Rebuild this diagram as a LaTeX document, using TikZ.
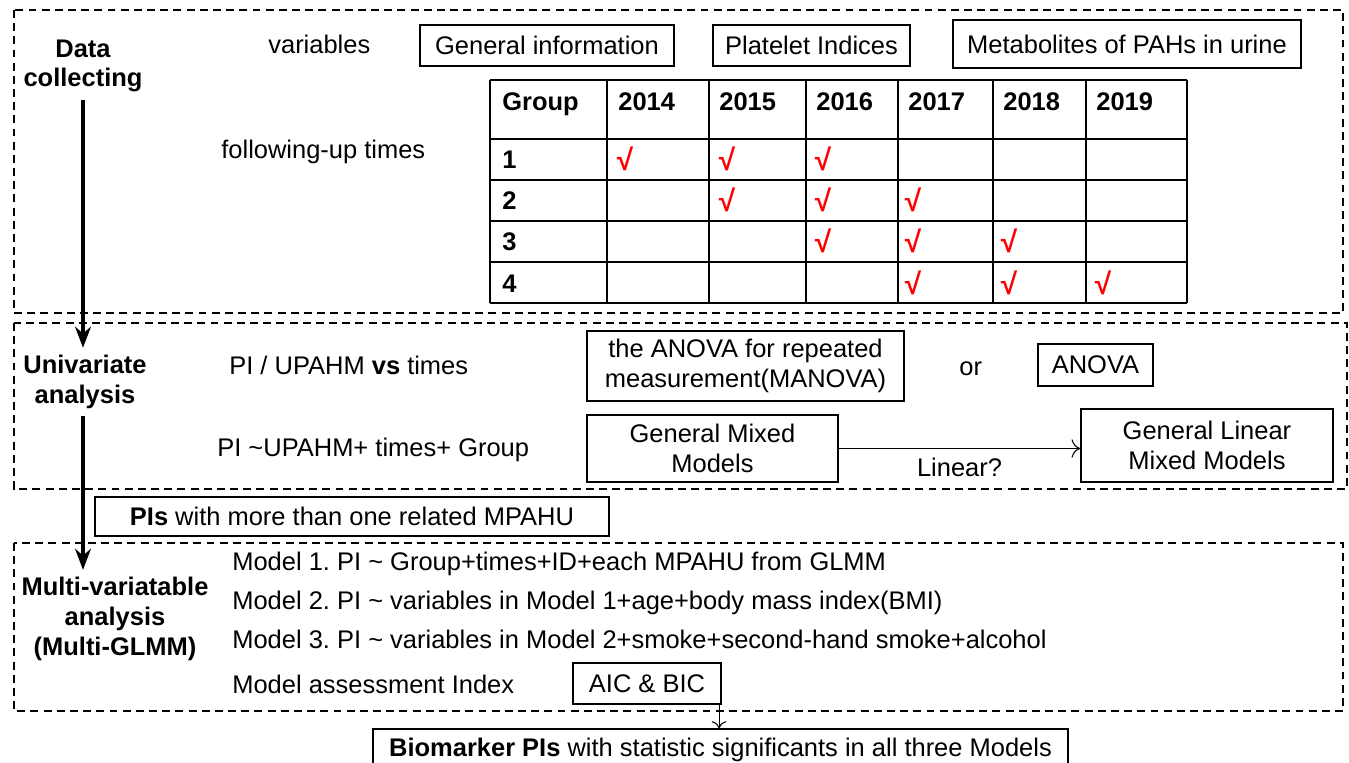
\documentclass[tikz,border=0pt]{standalone}
\usepackage{xcolor}
\usepackage{fontspec}
\setmainfont{Liberation Sans}
\usetikzlibrary{positioning, arrows.meta}

\begin{document}
\frenchspacing
\begin{tikzpicture}[x=0.02cm, y=-0.02cm,
        every node/.style={font=\fontsize{14.5}{17}\selectfont},
        phase/.style={draw, line width=1.1pt, dash pattern=on 4.5pt off 3pt},
        box/.style={draw, line width=0.8pt, inner sep=0pt, align=center},
        txt/.style={anchor=west, inner sep=0pt, text height=10.4pt, text depth=0pt},
        stage/.style={font=\fontsize{14.5}{17}\selectfont\bfseries, align=center, inner sep=4pt},
        head/.style={txt, font=\fontsize{14.5}{17}\selectfont\bfseries},
        tick/.style={text=red, inner sep=0pt, font=\fontsize{17}{17}\selectfont\bfseries},
        flow/.style={line width=2pt, -{Stealth[length=12pt, width=9pt]}}]

        \def\u{0.02cm}
        \useasboundingbox (0,0) rectangle (1349,763);

        % the three phases
        \draw[phase] (14,10) rectangle (1343,313);
        \draw[phase] (14,323) rectangle (1347,489);
        \draw[phase] (14,543) rectangle (1343,711);

        \node[stage] (dc) at (83,66) {Data\\collecting};
        \node[stage] (ua) at (85,382) {Univariate\\analysis};
        \node[stage] (mva) at (115,619) {Multi-variatable\\analysis\\(Multi-GLMM)};

        \draw[flow] (dc.south) -- (dc.south |- ua.north);
        \draw[flow] (ua.south -| dc.south) -- (dc.south |- mva.north);

        % data collecting
        \node[txt] (var) at (268,44) {variables};
        \node[box, minimum width=254*\u, minimum height=41*\u] (gi) at (547,45.5) {General information};
        \node[box, minimum width=197*\u, minimum height=41*\u] (pli) at (811.5,45.5) {Platelet Indices};
        \node[box, minimum width=348*\u, minimum height=48*\u] (met) at (1127,44) {Metabolites of PAHs in urine};
        \node[txt] (fut) at (221,149) {following-up times};

        \foreach \xa in {490,607,709,806,898,993,1086,1187}
            \draw[line width=0.8pt] (\xa,80) -- (\xa,303);
        \foreach \ya in {80,139,180,221,262,303}
            \draw[line width=0.8pt] (490,\ya) -- (1187,\ya);

        \node[head] (grp) at (502,101) {Group};
        \foreach \xa/\yr in {618/2014,719/2015,816/2016,908/2017,1003/2018,1096/2019}
            \node[head] (y\yr) at (\xa,101) {\yr};
        \foreach \r/\ya in {1/159,2/200,3/241,4/283}
            \node[head] (g\r) at (502,\ya) {\r};
        \foreach \cx/\cy [count=\i] in {625/159,727/159,823/159,
                727/200,823/200,913/200,
                823/241,913/241,1009/241,
                913/283,1009/283,1103/283}
            \node[tick] (ck\i) at (\cx,\cy) {√};

        % univariate analysis
        \node[txt] (pvt) at (229,365) {PI / UPAHM \textbf{vs} times};
        \node[box, minimum width=317*\u, minimum height=70*\u] (man) at (745.5,366) {the ANOVA for repeated\\measurement(MANOVA)};
        \node[txt] (or) at (959,366) {or};
        \node[box, minimum width=115*\u, minimum height=42*\u] (ano) at (1095.5,365) {ANOVA};
        \node[txt] (pug) at (217,447) {PI \textasciitilde UPAHM+ times+ Group};
        \node[box, minimum width=251*\u, minimum height=67*\u] (gmm) at (712.5,448.5) {General Mixed\\Models};
        \node[box, minimum width=252*\u, minimum height=73*\u] (glmm) at (1207,445.5) {General Linear\\Mixed Models};
        \draw[line width=0.6pt, -{To[length=5pt]}] (gmm.east) -- (gmm.east -| glmm.west)
            node[midway, below=2pt] (lin) {Linear?};

        \node[box, minimum width=514*\u, minimum height=39*\u] (pis) at (352,516.5) {\textbf{PIs} with more than one related MPAHU};

        % multi-variatable analysis
        \node[txt] (m1) at (232,561) {Model 1. PI \textasciitilde{} Group+times+ID+each MPAHU from GLMM};
        \node[txt] (m2) at (232,600) {Model 2. PI \textasciitilde{} variables in Model 1+age+body mass index(BMI)};
        \node[txt] (m3) at (232,639) {Model 3. PI \textasciitilde{} variables in Model 2+smoke+second-hand smoke+alcohol};
        \node[txt] (mai) at (232,684) {Model assessment Index};
        \node[box, minimum width=148*\u, minimum height=41*\u] (aic) at (647,683.5) {AIC \& BIC};

        \node[box, minimum width=695*\u, minimum height=42*\u] (bio) at (720.5,750) {\textbf{Biomarker PIs} with statistic significants in all three Models};
        \draw[line width=0.6pt, -{To[length=4pt]}] ([xshift=-1.5pt]aic.south east) -- ([xshift=-1.5pt]aic.south east |- bio.north);
        \end{tikzpicture}
\end{document}
